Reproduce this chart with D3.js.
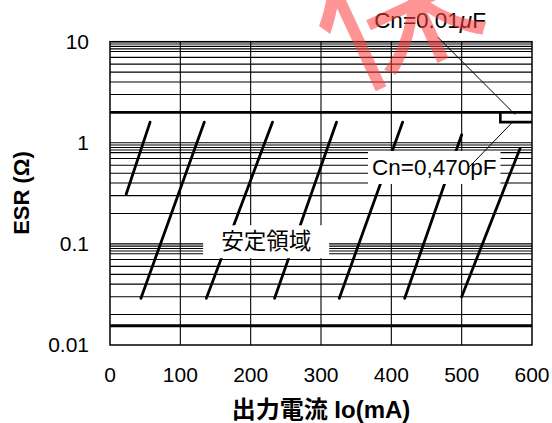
<!DOCTYPE html>
<html>
<head>
<meta charset="utf-8">
<script src="https://cdn.jsdelivr.net/npm/d3@7"></script>
<style>
  body { margin: 0; background: #fff; }
  text { font-family: "Liberation Sans", Arial, "Noto Sans CJK JP", sans-serif; fill: #000; }
</style>
</head>
<body>
<div id="chart"></div>
<script>
// axis ticks
var xTicks = [0, 100, 200, 300, 400, 500, 600];
var yTicks = [0.01, 0.1, 1, 10];
var yTickLabels = ["0.01", "0.1", "1", "10"];

// minor log grid (per decade)
var decades = [10, 1, 0.1];
var minorSteps = [0.95, 0.9, 0.85, 0.8, 0.7, 0.6, 0.5, 0.4, 0.3, 0.2];

// stable-region boundaries
var upperESR = 2;        // Cn = 0,470pF
var lowerESR = 0.0155;
var cnStepX = [555, 555, 600];    // Cn = 0.01uF
var cnStepY = [2, 1.6, 1.6];

// hatch marks of the stable region (Io mA, ESR ohm)
var hatchX1 = [23, 44, 137, 234, 326, 419, 500];
var hatchY1 = [0.31, 0.029, 0.029, 0.029, 0.029, 0.029, 0.03];
var hatchX2 = [57, 134, 231, 322, 416, 500, 583];
var hatchY2 = [1.6, 1.6, 1.6, 1.6, 1.6, 1.2, 0.88];

// leader lines
var leader1X = [466, 576], leader1Y = [11.1, 1.9];
var leader2X = [510, 571.5], leader2Y = [0.57, 1.58];

var margin = {top: 41.7, right: 20, bottom: 78, left: 110},
    width = 552 - margin.left - margin.right,
    height = 423 - margin.top - margin.bottom;

var root = d3.select("#chart")
    .append("svg")
    .attr("width", 552)
    .attr("height", 423);

var svg = root.append("g")
    .attr("transform", "translate(" + margin.left + "," + margin.top + ")");

var x = d3.scaleLinear().domain([0, 600]).range([0, width]);
var y = d3.scaleLog().domain([0.01, 10]).range([height, 0]);

// horizontal grid
var gridVals = [];
decades.forEach(function(d) {
    gridVals.push(d);
    minorSteps.forEach(function(s) { gridVals.push(d * s); });
});

svg.append("g").selectAll("line.h")
    .data(gridVals)
    .enter().append("line")
    .attr("x1", 0).attr("x2", width)
    .attr("y1", function(d) { return y(d); })
    .attr("y2", function(d) { return y(d); })
    .attr("stroke", "#000").attr("stroke-width", 1.1);

// vertical grid
svg.append("g").selectAll("line.v")
    .data(xTicks.slice(1, -1))
    .enter().append("line")
    .attr("y1", 0).attr("y2", height)
    .attr("x1", function(d) { return x(d); })
    .attr("x2", function(d) { return x(d); })
    .attr("stroke", "#000").attr("stroke-width", 1.1);

// boundaries
[upperESR, lowerESR].forEach(function(v) {
    svg.append("line")
        .attr("x1", 0).attr("x2", width)
        .attr("y1", y(v)).attr("y2", y(v))
        .attr("stroke", "#000").attr("stroke-width", 2.8);
});

var stepLine = d3.line()
    .x(function(d) { return x(d[0]); })
    .y(function(d) { return y(d[1]); });

svg.append("path")
    .datum(d3.zip(cnStepX, cnStepY))
    .attr("fill", "none")
    .attr("stroke", "#000")
    .attr("stroke-width", 2.6)
    .attr("d", stepLine);

// hatch marks
svg.append("g").selectAll("line.hatch")
    .data(d3.range(hatchX1.length))
    .enter().append("line")
    .attr("x1", function(i) { return x(hatchX1[i]); })
    .attr("y1", function(i) { return y(hatchY1[i]); })
    .attr("x2", function(i) { return x(hatchX2[i]); })
    .attr("y2", function(i) { return y(hatchY2[i]); })
    .attr("stroke", "#000").attr("stroke-width", 2.8)
    .attr("stroke-linecap", "round");

// labels with white boxes
function boxLabel(cx, cy, str, size, pad) {
    var g = svg.append("g");
    var t = g.append("text")
        .attr("x", x(cx)).attr("y", y(cy))
        .attr("text-anchor", "middle")
        .attr("dominant-baseline", "central")
        .style("font-size", size + "px")
        .text(str);
    var b = t.node().getBBox();
    g.insert("rect", "text")
        .attr("x", b.x - pad[0]).attr("y", b.y - pad[1])
        .attr("width", b.width + 2 * pad[0]).attr("height", b.height + 2 * pad[1])
        .attr("fill", "#fff");
}
boxLabel(222, 0.105, "安定領域", 22.5, [18, 4]);
boxLabel(461, 0.57, "Cn=0,470pF", 22.5, [4, 4]);

// border
svg.append("rect")
    .attr("width", width).attr("height", height)
    .attr("fill", "none").attr("stroke", "#000").attr("stroke-width", 1.5);

// leaders
svg.append("line")
    .attr("x1", x(leader1X[0])).attr("y1", y(leader1Y[0]))
    .attr("x2", x(leader1X[1])).attr("y2", y(leader1Y[1]))
    .attr("stroke", "#000").attr("stroke-width", 1);
svg.append("line")
    .attr("x1", x(leader2X[0])).attr("y1", y(leader2Y[0]))
    .attr("x2", x(leader2X[1])).attr("y2", y(leader2Y[1]))
    .attr("stroke", "#000").attr("stroke-width", 1);

// tick labels
svg.append("g").selectAll("text.yt")
    .data(yTicks)
    .enter().append("text")
    .attr("x", -21)
    .attr("y", function(d) { return y(d); })
    .attr("text-anchor", "end")
    .attr("dominant-baseline", "central")
    .style("font-size", "21px")
    .text(function(d, i) { return yTickLabels[i]; });

svg.append("g").selectAll("text.xt")
    .data(xTicks)
    .enter().append("text")
    .attr("x", function(d) { return x(d); })
    .attr("y", height + 37)
    .attr("text-anchor", "middle")
    .style("font-size", "21px")
    .text(function(d) { return d; });

// axis titles
svg.append("text")
    .attr("transform", "translate(" + (21 - margin.left) + "," + (193 - margin.top) + ") rotate(-90)")
    .attr("text-anchor", "middle")
    .attr("dominant-baseline", "central")
    .style("font-size", "22px")
    .style("font-weight", "bold")
    .text("ESR (Ω)");

svg.append("text")
    .attr("x", 321 - margin.left)
    .attr("y", 418 - margin.top)
    .attr("text-anchor", "middle")
    .style("font-size", "24px")
    .style("font-weight", "bold")
    .text("出力電流 Io(mA)");

// watermark
root.append("text")
    .attr("transform", "translate(418,58) rotate(-25)")
    .attr("text-anchor", "middle")
    .style("font-family", "Noto Sans CJK JP")
    .style("font-size", "160px")
    .style("fill", "rgba(255,60,60,0.55)")
    .text("保");

var cn1 = svg.append("text")
    .attr("x", x(455)).attr("y", -13.5)
    .attr("text-anchor", "middle")
    .style("font-size", "22.5px");
cn1.append("tspan").text("Cn=0.01");
cn1.append("tspan").style("font-style", "italic").text("μ");
cn1.append("tspan").text("F");
</script>
</body>
</html>
